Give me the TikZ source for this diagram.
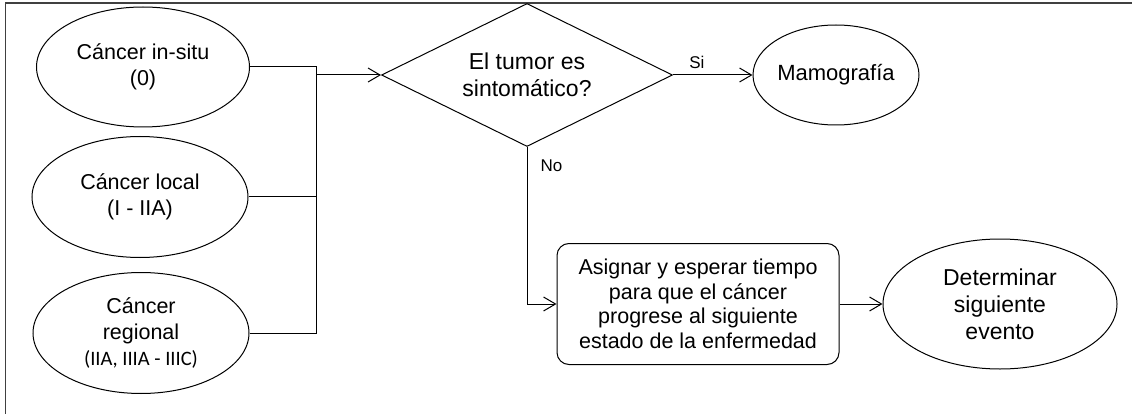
\documentclass[tikz,border=0pt]{standalone}
\usepackage{fontspec}
\setmainfont{Liberation Sans}
\newfontfamily\calib{Carlito}
\usetikzlibrary{shapes.geometric,arrows.meta}
\begin{document}
\begin{tikzpicture}[x=1pt,y=-1pt,
  every node/.style={font=\fontsize{21.5}{26}\selectfont, align=center},
  big/.style={font=\fontsize{23}{27}\selectfont},
  ln/.style={line width=1pt},
  ell/.style={draw, ellipse, inner sep=0pt, ln},
  arr/.style={-{Straight Barb[length=12pt,width=14pt]}, ln},
  lbl/.style={font=\fontsize{17}{20}\selectfont, inner sep=1pt}]
\useasboundingbox (0,0) rectangle (1132,414);
\draw[line width=1.5pt, draw=black!75] (5.5,420) -- (5.5,3) -- (1140,3);
\node[ell, minimum width=213pt, minimum height=120pt] (e1) at (143,67) {Cáncer in-situ\\(0)};
\node[ell, minimum width=216pt, minimum height=121pt] (e2) at (140,197) {Cáncer local\\(I - IIA)};
\node[ell, minimum width=216pt, minimum height=121pt] (e3) at (141,333) {Cáncer\\regional\\{\calib\fontsize{20.5}{26}\selectfont (IIA, IIIA - IIIC)}};
\node[draw, diamond, aspect=2.035, minimum width=291pt, minimum height=143pt, inner sep=0pt, ln, big] (dia) at (527,75) {El tumor es\\sintomático?};
\node[ell, minimum width=158pt, minimum height=100pt, font=\fontsize{22}{26}\selectfont] (mam) at (836,75) {Mamografía};
\node[draw, rounded corners=12pt, minimum width=282pt, minimum height=121pt, ln, font=\fontsize{21.5}{24.5}\selectfont] (box) at (698,304) {Asignar y esperar tiempo\\para que el cáncer\\progrese al siguiente\\estado de la enfermedad};
\node[ell, minimum width=234pt, minimum height=130pt, big] (det) at (1000,304) {Determinar\\siguiente\\evento};
\coordinate (j) at (316,75);
\draw[ln] (e1.east) -| (j);
\draw[ln] (e2.east) -| (j);
\draw[ln] (e3.east) -| (j);
\draw[arr] (j) -- (dia.west);
\draw[arr] (dia.east) -- node[lbl, pos=0.3, above=5pt] {Si} (mam.west);
\draw[arr] (dia.south) |- node[lbl, pos=0.06, right=12pt] {No} (box.west);
\draw[arr] (box.east) -- (det.west);
\end{tikzpicture}
\end{document}
